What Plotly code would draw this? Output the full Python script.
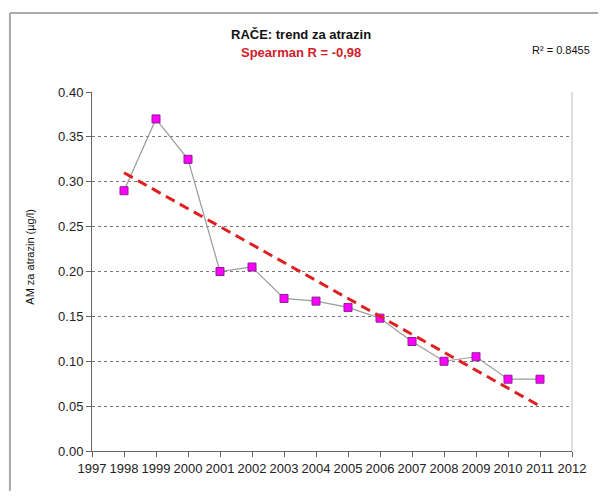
import plotly.graph_objects as go

years = [1998, 1999, 2000, 2001, 2002, 2003, 2004, 2005, 2006, 2007, 2008, 2009, 2010, 2011]
atrazin = [0.29, 0.37, 0.325, 0.20, 0.205, 0.17, 0.167, 0.16, 0.148, 0.122, 0.10, 0.105, 0.08, 0.08]
trend_years = [1998, 2011]
trend_values = [0.31, 0.05]
y_ticks = [0.00, 0.05, 0.10, 0.15, 0.20, 0.25, 0.30, 0.35, 0.40]
x_ticks = list(range(1997, 2013))

FONT = "Liberation Sans, Arial, sans-serif"

fig = go.Figure()
fig.add_trace(go.Scatter(
    x=years, y=atrazin, mode="lines+markers",
    line=dict(color="#9a9a9a", width=1.2),
    marker=dict(symbol="square", size=8, color="#ff00ff",
                line=dict(color="#8a2090", width=1)),
    showlegend=False, hoverinfo="x+y"))
fig.add_trace(go.Scatter(
    x=trend_years, y=trend_values, mode="lines",
    line=dict(color="#e02020", width=3, dash="10px,6px"),
    showlegend=False))

fig.update_layout(
    width=590, height=483,
    paper_bgcolor="white", plot_bgcolor="white",
    margin=dict(l=84, r=21, t=84, b=40),
    font=dict(family=FONT, size=13, color="#222"),
    xaxis=dict(range=[1997, 2012], tickvals=x_ticks, ticktext=[str(v) for v in x_ticks],
               showgrid=False, zeroline=False, showline=True, linecolor="#666", linewidth=1,
               ticks="outside", ticklen=5, tickcolor="#666", tickfont=dict(size=13),
               mirror=False),
    yaxis=dict(range=[0, 0.40], tickvals=y_ticks, ticktext=[f"{v:.2f}" for v in y_ticks],
               showgrid=True, gridcolor="#777", griddash="dot", gridwidth=1,
               zeroline=False, showline=True, linecolor="#666", linewidth=1,
               ticks="outside", ticklen=5, tickcolor="#666", tickfont=dict(size=13)),
    shapes=[
        dict(type="line", xref="paper", yref="paper", x0=1, x1=1, y0=0, y1=1,
             line=dict(color="#bbb", width=1)),
        dict(type="line", xref="paper", yref="paper", x0=-0.171, x1=1.2, y0=1.22, y1=1.22,
             line=dict(color="#aaa", width=2), layer="below"),
        dict(type="line", xref="paper", yref="paper", x0=-0.171, x1=-0.171, y0=-0.4, y1=1.22,
             line=dict(color="#aaa", width=2), layer="below"),
    ],
    annotations=[
        dict(text="<b>RAČE: trend za atrazin</b>", xref="paper", yref="paper",
             x=0.435, y=1.159, showarrow=False, font=dict(size=13, color="#111"),
             xanchor="center", yanchor="middle"),
        dict(text="<b>Spearman R = -0,98</b>", xref="paper", yref="paper",
             x=0.435, y=1.109, showarrow=False, font=dict(size=13, color="#d0202a"),
             xanchor="center", yanchor="middle"),
        dict(text="R² = 0.8455", xref="paper", yref="paper",
             x=1.041, y=1.117, showarrow=False, font=dict(size=11, color="#111"),
             xanchor="right", yanchor="middle"),
        dict(text="AM za atrazin (µg/l)", xref="paper", yref="paper",
             x=-0.128, y=0.54, showarrow=False, textangle=-90,
             font=dict(size=11, color="#111"), xanchor="center", yanchor="middle"),
    ],
)

fig.write_html("out.html")
